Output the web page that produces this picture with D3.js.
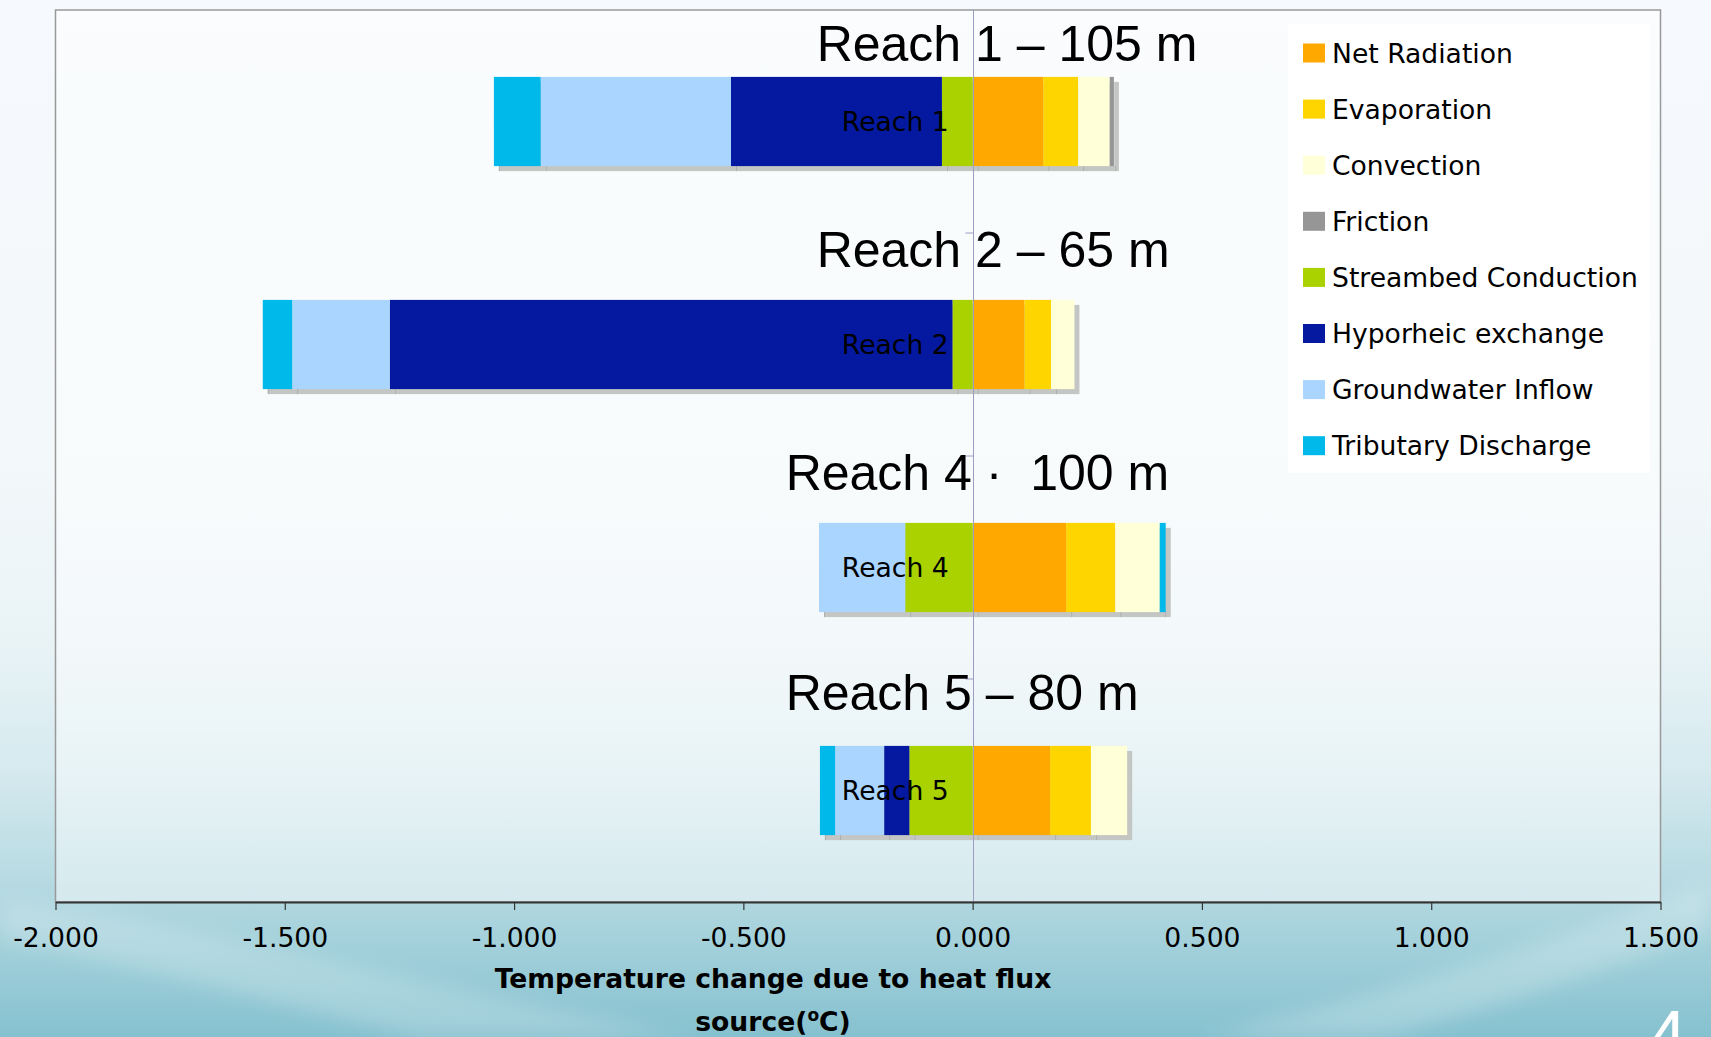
<!DOCTYPE html>
<html>
<head>
<meta charset="utf-8">
<script src="https://cdn.jsdelivr.net/npm/d3@7"></script>
<style>
  html, body { margin: 0; padding: 0; background: #f6f9fd; }
  svg { display: block; font-family: "DejaVu Sans", Verdana, sans-serif; }
</style>
</head>
<body>
<svg id="chart" width="1711" height="1037"></svg>
<script>
// Reaches (category axis, top to bottom)
const categories = ["Reach 1", "Reach 2", "Reach 4", "Reach 5"];

// Heat flux sources, in stacking order
const seriesNames = [
  "Net Radiation", "Evaporation", "Convection", "Friction",
  "Streambed Conduction", "Hyporheic exchange", "Groundwater Inflow", "Tributary Discharge"
];

// Temperature change (°C) per reach for each source
const netRadiation   = [0.154, 0.113, 0.204, 0.169];
const evaporation    = [0.076, 0.058, 0.107, 0.089];
const convection     = [0.069, 0.051, 0.097, 0.079];
const friction       = [0.009, 0.000, 0.000, 0.000];
const streambed      = [-0.067, -0.044, -0.147, -0.138];
const hyporheic      = [-0.460, -1.227, 0.000, -0.055];
const groundwater    = [-0.415, -0.213, -0.188, -0.107];
const tributary      = [-0.102, -0.064, 0.013, -0.033];

// Reach headings with reach lengths
const reachTitles = ["Reach 1 – 105 m", "Reach 2 – 65 m", "Reach 4 ·  100 m", "Reach 5 – 80 m"];

// Value-axis ticks
const xTicks = [-2, -1.5, -1, -0.5, 0, 0.5, 1, 1.5];

const seriesColors = ["#ffa800", "#ffd500", "#ffffd8", "#969696",
                      "#aad200", "#0419a0", "#a9d5fe", "#00b9eb"];

const seriesValues = [netRadiation, evaporation, convection, friction,
                      streambed, hyporheic, groundwater, tributary];

const rows = categories.map((reach, i) => {
  const r = { reach };
  seriesNames.forEach((name, s) => { r[name] = seriesValues[s][i]; });
  return r;
});

const svg = d3.select("#chart");
const W = 1711, H = 1037;
const plot = { left: 55.5, right: 1660.5, top: 10, bottom: 902 };
const VERDANA = "'DejaVu Sans', Verdana, sans-serif";
const ARIAL = "'Liberation Sans', Arial, Helvetica, sans-serif";
const LABEL_SIZE = "26.6px";

// ---------- slide background ----------
const defs = svg.append("defs");
const bg = defs.append("linearGradient").attr("id", "bg").attr("x1", 0).attr("y1", 0).attr("x2", 0).attr("y2", 1);
[[0, "#f6f9fd"], [0.45, "#f3f8fa"], [0.62, "#e9f3f6"], [0.74, "#d6eaef"], [0.85, "#b7dae2"], [0.93, "#9ccdd8"], [1, "#86c1cf"]]
  .forEach(([o, c]) => bg.append("stop").attr("offset", o).attr("stop-color", c));
defs.append("filter").attr("id", "soft").append("feGaussianBlur").attr("stdDeviation", 10);

svg.append("rect").attr("width", W).attr("height", H).attr("fill", "url(#bg)");
// soft light sweeps across the lower part of the slide
svg.append("path")
  .attr("d", "M0,900 C250,930 420,990 700,1037 L420,1037 C260,1000 120,960 0,940 Z")
  .attr("fill", "#ffffff").attr("opacity", 0.2).attr("filter", "url(#soft)");
svg.append("path")
  .attr("d", "M1200,1037 C1400,990 1560,940 1711,880 L1711,930 C1580,980 1450,1020 1380,1037 Z")
  .attr("fill", "#ffffff").attr("opacity", 0.22).attr("filter", "url(#soft)");

// ---------- scales ----------
const x = d3.scaleLinear().domain([-2, 1.5]).range([plot.left, plot.right]);
const y = d3.scaleBand().domain(categories).range([plot.top, plot.bottom])
  .paddingInner(0.6).paddingOuter(0.3);
const color = d3.scaleOrdinal().domain(seriesNames).range(seriesColors);

// ---------- plot area ----------
svg.append("rect")
  .attr("x", plot.left).attr("y", plot.top)
  .attr("width", plot.right - plot.left).attr("height", plot.bottom - plot.top)
  .attr("fill", "#ffffff").attr("fill-opacity", 0.45)
  .attr("stroke", "#999999").attr("stroke-width", 1.5);

// ---------- stacked bars ----------
const stacked = d3.stack().keys(seriesNames).offset(d3.stackOffsetDiverging)(rows);
const segments = [];
stacked.forEach(layer => {
  layer.forEach(d => {
    if (d[1] - d[0] === 0) return;
    segments.push({ key: layer.key, reach: d.data.reach, lo: Math.min(d[0], d[1]), hi: Math.max(d[0], d[1]) });
  });
});

const sh = 5; // drop shadow offset
const shadow = svg.append("g");
shadow.selectAll("rect").data(segments).join("rect")
  .attr("x", d => x(d.lo) + sh).attr("y", d => y(d.reach) + sh)
  .attr("width", d => x(d.hi) - x(d.lo)).attr("height", y.bandwidth())
  .attr("fill", "#c4c6c4");
shadow.selectAll("line").data(segments).join("line")
  .attr("x1", d => x(d.lo) + sh + 0.5).attr("x2", d => x(d.lo) + sh + 0.5)
  .attr("y1", d => y(d.reach) + y.bandwidth()).attr("y2", d => y(d.reach) + y.bandwidth() + sh)
  .attr("stroke", "#acaeac").attr("stroke-width", 1);

svg.append("g").selectAll("rect").data(segments).join("rect")
  .attr("x", d => x(d.lo)).attr("y", d => y(d.reach))
  .attr("width", d => x(d.hi) - x(d.lo)).attr("height", y.bandwidth())
  .attr("fill", d => color(d.key));

// ---------- category axis at zero ----------
const x0 = Math.round(x(0)) + 0.5;
svg.append("line")
  .attr("x1", x0).attr("x2", x0).attr("y1", plot.top).attr("y2", plot.bottom)
  .attr("stroke", "#9c9cc2").attr("stroke-width", 1);
const bounds = d3.range(1, categories.length).map(k => plot.top + k * y.step());
svg.append("g").selectAll("line").data(bounds).join("line")
  .attr("x1", x0 - 8).attr("x2", x0).attr("y1", d => d).attr("y2", d => d)
  .attr("stroke", "#9c9cc2").attr("stroke-width", 1);

svg.append("g").selectAll("text").data(categories).join("text")
  .attr("x", x(0) - 24).attr("y", d => y(d) + y.bandwidth() / 2).attr("dy", "0.35em")
  .attr("text-anchor", "end").style("font-family", VERDANA).style("font-size", LABEL_SIZE).attr("fill", "#000")
  .text(d => d);

// ---------- value axis ----------
const fmt = d3.format(".3f");
const xAxis = svg.append("g").attr("transform", `translate(0,${plot.bottom})`)
  .call(d3.axisBottom(x).tickValues(xTicks).tickFormat(v => fmt(v).replace("−", "-"))
    .tickSize(8).tickSizeOuter(0).tickPadding(18));
xAxis.select(".domain").attr("stroke", "#333").attr("stroke-width", 2);
xAxis.selectAll(".tick line").attr("stroke", "#333").attr("stroke-width", 1.2);
xAxis.selectAll(".tick text").attr("fill", "#000")
  .style("font-family", VERDANA).style("font-size", LABEL_SIZE);

// axis title
const axisTitle = svg.append("text").attr("text-anchor", "middle")
  .style("font-family", VERDANA).style("font-size", LABEL_SIZE).style("font-weight", "bold").attr("fill", "#000");
axisTitle.append("tspan").attr("x", 773).attr("y", 988).text("Temperature change due to heat flux");
const line2 = axisTitle.append("tspan").attr("x", 773).attr("y", 1031);
line2.append("tspan").text("source(");
line2.append("tspan").style("font-size", "17px").attr("dy", -10).text("o");
line2.append("tspan").attr("dy", 10).text("C)");

// ---------- reach headings ----------
const titleShift = [156, 156, 187, 187];   // px left of the zero line
const titleRise  = [16, 33, 33, 36];       // px above each bar
svg.append("g").selectAll("text").data(reachTitles).join("text")
  .attr("x", (d, i) => x(0) - titleShift[i])
  .attr("y", (d, i) => y(categories[i]) - titleRise[i])
  .style("font-family", ARIAL).style("font-size", "50px")
  .attr("fill", "#000")
  .style("white-space", "pre")
  .text(d => d);

// ---------- legend ----------
const legend = svg.append("g");
legend.append("rect").attr("x", 1288).attr("y", 24).attr("width", 362).attr("height", 449).attr("fill", "#ffffff");
const items = legend.selectAll("g.item").data(seriesNames).join("g")
  .attr("class", "item")
  .attr("transform", (d, i) => `translate(1303,${53 + i * 56.1})`);
items.append("rect").attr("x", 0).attr("y", -9.5).attr("width", 22).attr("height", 19)
  .attr("fill", d => color(d));
items.append("text").attr("x", 29).attr("y", 9.5)
  .style("font-family", VERDANA).style("font-size", LABEL_SIZE).attr("fill", "#000")
  .text(d => d);

// slide number
svg.append("text").attr("x", 1648).attr("y", 1060)
  .style("font-family", ARIAL).style("font-size", "70px").attr("fill", "#ffffff").text("4");
</script>
</body>
</html>
